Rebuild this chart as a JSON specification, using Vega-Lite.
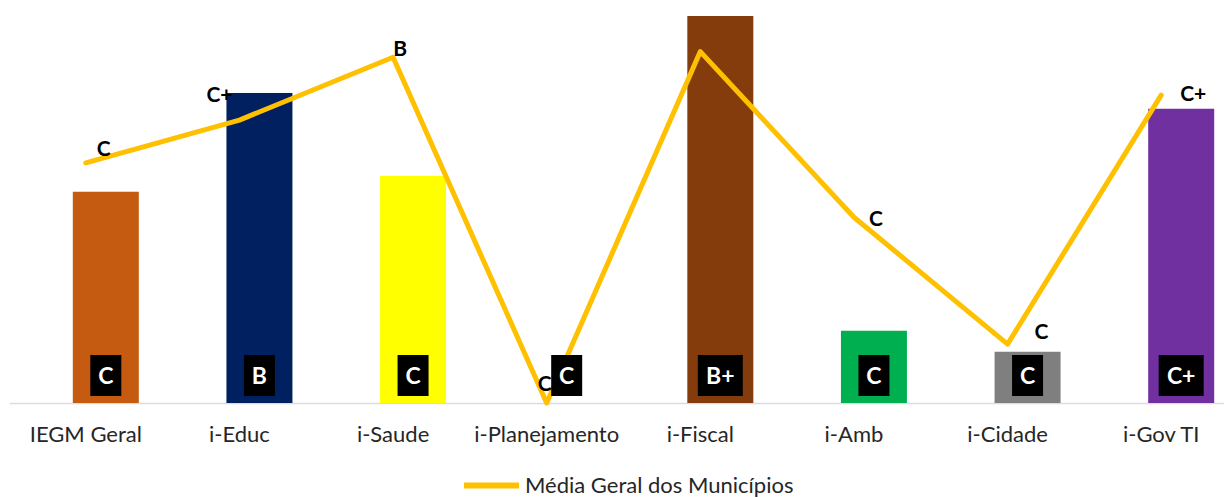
{
  "$schema": "https://vega.github.io/schema/vega-lite/v6.json",
  "width": 1216,
  "height": 403,
  "autosize": {"type": "none"},
  "padding": {"left": 9, "top": 0, "right": 0, "bottom": 94},
  "background": "white",
  "config": {"view": {"stroke": null}, "font": "Lato"},
  "data": {
    "values": [
      {"cat": "IEGM Geral", "bar": 52.4, "barLabel": "C", "media": 59.6, "mediaLabel": "C"},
      {"cat": "i-Educ", "bar": 76.9, "barLabel": "B", "media": 70.2, "mediaLabel": "C+"},
      {"cat": "i-Saude", "bar": 56.3, "barLabel": "C", "media": 85.8, "mediaLabel": "B"},
      {"cat": "i-Planejamento", "bar": 0, "barLabel": "C", "media": 0, "mediaLabel": "C"},
      {"cat": "i-Fiscal", "bar": 96.0, "barLabel": "B+", "media": 87.2, "mediaLabel": ""},
      {"cat": "i-Amb", "bar": 17.9, "barLabel": "C", "media": 46.1, "mediaLabel": "C"},
      {"cat": "i-Cidade", "bar": 12.7, "barLabel": "C", "media": 14.6, "mediaLabel": "C"},
      {"cat": "i-Gov TI", "bar": 73.0, "barLabel": "C+", "media": 76.4, "mediaLabel": "C+"}
    ]
  },
  "encoding": {
    "x": {
      "field": "cat",
      "type": "nominal",
      "sort": null,
      "scale": {"range": [0, 1229], "paddingInner": 0, "paddingOuter": 0},
      "axis": {
        "title": null,
        "labelAngle": 0,
        "ticks": false,
        "domainColor": "#D9DCE3",
        "domainWidth": 1.5,
        "labelFont": "Lato",
        "labelFontSize": 22,
        "labelColor": "#262626",
        "labelBaseline": "alphabetic",
        "labelPadding": 38,
        "grid": false
      }
    }
  },
  "layer": [
    {
      "mark": {"type": "bar", "width": 66, "xOffset": 20},
      "encoding": {
        "y": {"field": "bar", "type": "quantitative", "scale": {"domain": [0, 100], "nice": false}, "axis": null},
        "fill": {
          "field": "cat",
          "type": "nominal",
          "scale": {
            "domain": ["IEGM Geral", "i-Educ", "i-Saude", "i-Planejamento", "i-Fiscal", "i-Amb", "i-Cidade", "i-Gov TI"],
            "range": ["#C55A11", "#002060", "#FFFF00", "#FFFFFF", "#843C0C", "#00B050", "#7F7F7F", "#7030A0"]
          },
          "legend": null
        }
      }
    },
    {
      "mark": {"type": "line", "strokeWidth": 5, "strokeCap": "round", "strokeJoin": "round"},
      "encoding": {
        "y": {"field": "media", "type": "quantitative"},
        "stroke": {
          "datum": "Média Geral dos Municípios",
          "type": "nominal",
          "scale": {"range": ["#FFC000"]},
          "legend": {
            "orient": "none",
            "legendX": 452,
            "legendY": 455,
            "title": null,
            "padding": 0,
            "symbolType": "stroke",
            "symbolSize": 3025,
            "symbolStrokeWidth": 6,
            "labelFont": "Lato",
            "labelFontSize": 22,
            "labelColor": "#262626",
            "labelOffset": 3,
            "labelLimit": 500
          }
        }
      }
    },
    {
      "mark": {
        "type": "text",
        "font": "Lato",
        "fontSize": 21,
        "fontWeight": "bold",
        "color": "#000000",
        "baseline": "alphabetic",
        "align": "center",
        "dx": {"expr": "datum.cat==='IEGM Geral'?18:datum.cat==='i-Educ'?-20:datum.cat==='i-Saude'?7:datum.cat==='i-Planejamento'?-2:datum.cat==='i-Amb'?22:datum.cat==='i-Cidade'?34:datum.cat==='i-Gov TI'?32:0"},
        "dy": {"expr": "datum.cat==='IEGM Geral'?-7:datum.cat==='i-Educ'?-18:datum.cat==='i-Saude'?-1:datum.cat==='i-Planejamento'?-12:datum.cat==='i-Amb'?9:datum.cat==='i-Cidade'?-5:datum.cat==='i-Gov TI'?6:0"}
      },
      "encoding": {
        "y": {"field": "media", "type": "quantitative"},
        "text": {"field": "mediaLabel"}
      }
    },
    {
      "transform": [{"filter": "length(datum.barLabel) == 1"}],
      "mark": {"type": "bar", "width": 31, "xOffset": 20, "color": "#000000"},
      "encoding": {
        "y": {"datum": 1.74},
        "y2": {"datum": 11.91}
      }
    },
    {
      "transform": [{"filter": "length(datum.barLabel) == 2"}],
      "mark": {"type": "bar", "width": 45, "xOffset": 20, "color": "#000000"},
      "encoding": {
        "y": {"datum": 1.74},
        "y2": {"datum": 11.91}
      }
    },
    {
      "mark": {
        "type": "text",
        "font": "Lato",
        "fontSize": 23,
        "fontWeight": "bold",
        "color": "#FFFFFF",
        "baseline": "alphabetic",
        "align": "center",
        "xOffset": 20
      },
      "encoding": {
        "y": {"datum": 4.64},
        "text": {"field": "barLabel"}
      }
    }
  ]
}
